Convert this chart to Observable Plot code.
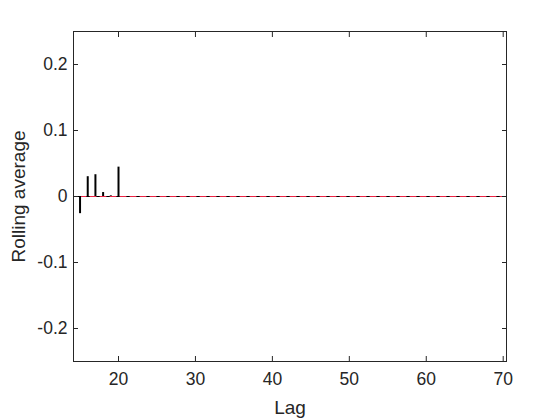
<!DOCTYPE html>
<html>
<head>
<meta charset="utf-8">
<script src="https://cdn.jsdelivr.net/npm/d3@7"></script>
<script src="https://cdn.jsdelivr.net/npm/@observablehq/plot@0.6"></script>
<style>
  html, body { margin: 0; padding: 0; background: #fff; }
  #chart { width: 560px; height: 420px; }
  svg { font-family: "Liberation Sans", Arial, sans-serif; }
  g[aria-label="x-axis tick label"], g[aria-label="y-axis tick label"] { font-size: 17.5px; }
</style>
</head>
<body>
<div id="chart"></div>
<script>
const lags = [15, 16, 17, 18, 19, 20];
const values = [-0.026, 0.030, 0.033, 0.006, 0.001, 0.0445];
const meanLags = [15, 71];
const meanValues = [0, 0];
const xTicks = [20, 30, 40, 50, 60, 70];
const yTicks = [-0.2, -0.1, 0, 0.1, 0.2];
const xDomain = [14.15, 70.43];
const yDomain = [-0.25, 0.25];

const stems = lags.map((lag, i) => ({lag, value: values[i]}));
const meanLine = meanLags.map((lag, i) => ({lag, value: meanValues[i]}));
const axisColor = "#262626";
const fmtY = d => d === 0 ? "0" : String(d);

const plot = Plot.plot({
  width: 560,
  height: 420,
  marginLeft: 73,
  marginRight: 54,
  marginTop: 31,
  marginBottom: 59,
  style: {fontFamily: "'Liberation Sans', Arial, sans-serif", background: "#fff"},
  x: {domain: xDomain, ticks: xTicks},
  y: {domain: yDomain, ticks: yTicks},
  marks: [
    Plot.ruleY([0], {stroke: "#000", strokeWidth: 1}),
    Plot.line(meanLine, {x: "lag", y: "value", stroke: "#ee2244", strokeWidth: 1, strokeDasharray: "6,4", clip: true}),
    Plot.ruleX(stems, {x: "lag", y1: 0, y2: "value", stroke: "#000", strokeWidth: 2}),
    Plot.frame({stroke: axisColor, strokeWidth: 1}),
    Plot.axisX({anchor: "bottom", ticks: xTicks, tickSize: 0, tickPadding: 11, fontSize: 17.5, fill: axisColor, label: null}),
    Plot.axisX({anchor: "bottom", ticks: xTicks, tickSize: 5, dy: -5, text: null, stroke: axisColor, label: null}),
    Plot.axisX({anchor: "top", ticks: xTicks, tickSize: 5, dy: 5, text: null, stroke: axisColor, label: null}),
    Plot.axisY({anchor: "left", ticks: yTicks, tickSize: 0, tickPadding: 6, fontSize: 17.5, fill: axisColor, tickFormat: fmtY, label: null}),
    Plot.axisY({anchor: "left", ticks: yTicks, tickSize: 5, dx: 5, text: null, stroke: axisColor, label: null}),
    Plot.axisY({anchor: "right", ticks: yTicks, tickSize: 5, dx: -5, text: null, stroke: axisColor, label: null}),
    Plot.text(["Lag"], {frameAnchor: "bottom", dy: 46, lineAnchor: "middle", textAnchor: "middle", fontSize: 19, fill: axisColor}),
    Plot.text(["Rolling average"], {frameAnchor: "left", dx: -55, rotate: -90, lineAnchor: "middle", textAnchor: "middle", fontSize: 19, fill: axisColor})
  ]
});
document.getElementById("chart").appendChild(plot);
</script>
</body>
</html>
